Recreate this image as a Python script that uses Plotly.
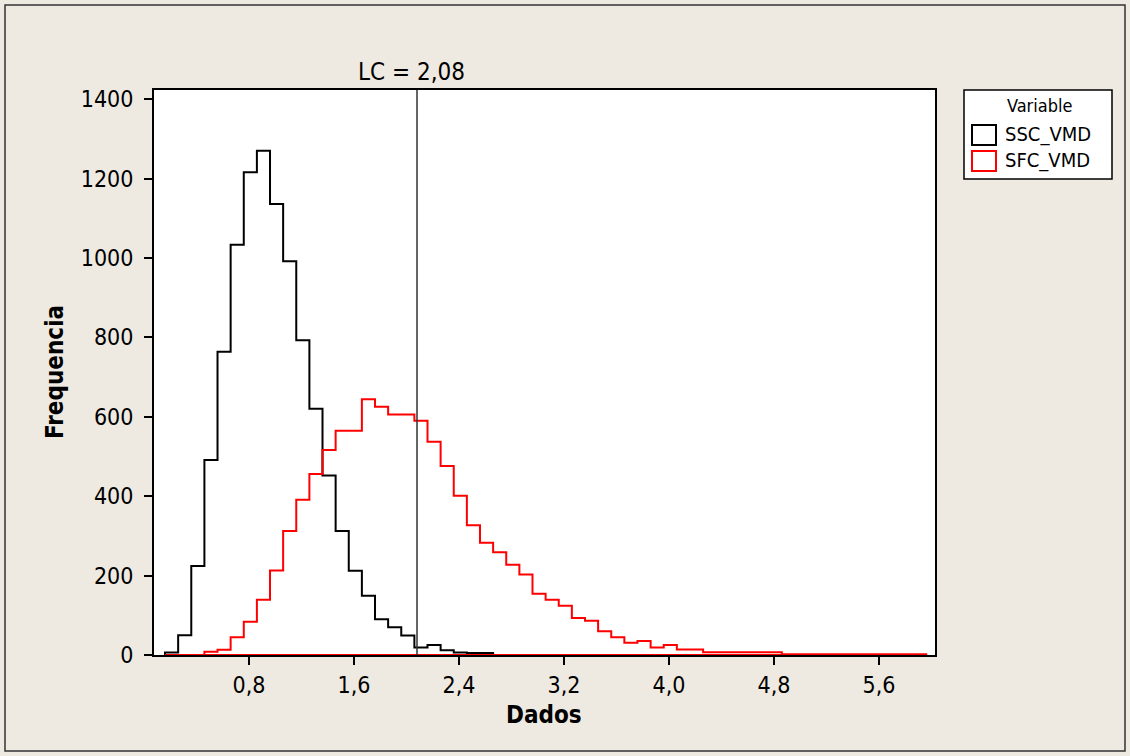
import plotly.graph_objects as go

# ---- data ----
bin_start = 0.16
bin_width = 0.1
ssc_counts = [6, 50, 224, 491, 764, 1033, 1216, 1270, 1136, 992, 793, 620, 452,
              312, 212, 149, 90, 70, 49, 19, 25, 12, 6, 5, 5]
sfc_counts = [0, 0, 0, 8, 13, 45, 84, 139, 213, 312, 391, 456, 516, 565, 565,
              644, 625, 606, 606, 590, 537, 476, 401, 327, 283, 259, 227, 203,
              154, 139, 124, 93, 86, 60, 45, 31, 35, 19, 25, 14, 14,
              7, 7, 7, 7, 7, 7, 2, 2, 2, 2, 2, 2, 2, 2, 2, 2, 2]
series_names = ["SSC_VMD", "SFC_VMD"]
series_colors = ["#000000", "#FF0000"]
lc_value = 2.08
lc_label = "LC = 2,08"
x_tickvals = [0.8, 1.6, 2.4, 3.2, 4.0, 4.8, 5.6]
x_ticktext = ["0,8", "1,6", "2,4", "3,2", "4,0", "4,8", "5,6"]
y_tickvals = [0, 200, 400, 600, 800, 1000, 1200, 1400]
x_range = [0.076, 6.027]
y_range = [0, 1423]

W, H = 1130, 756
L, R, T, B = 154, 195, 90, 101
BG = "#EEEAE1"
FONT = "Tahoma, 'DejaVu Sans Condensed', 'DejaVu Sans', sans-serif"


def px_x(p):
    return (p - L) / (W - L - R)


def px_y(p):
    return (H - B - p) / (H - T - B)


def step_outline(counts):
    edges = [bin_start + i * bin_width for i in range(len(counts) + 1)]
    xs = [edges[0]] + edges + [edges[0]]
    ys = [0] + list(counts) + [0, 0]
    return xs, ys


fig = go.Figure()
for name, counts, color in zip(series_names, [ssc_counts, sfc_counts], series_colors):
    xs, ys = step_outline(counts)
    fig.add_trace(go.Scatter(x=xs, y=ys, mode="lines", name=name,
                             line=dict(color=color, width=2, shape="hv"),
                             showlegend=False, hoverinfo="skip"))

# reference line
fig.add_shape(type="line", x0=lc_value, x1=lc_value, y0=0, y1=1, xref="x", yref="paper",
              line=dict(color="#333333", width=1.5))
fig.add_annotation(x=lc_value, y=1, xref="x", yref="paper", text=lc_label, showarrow=False,
                   xanchor="center", yanchor="bottom", yshift=2, xshift=-6,
                   font=dict(family=FONT, size=24, color="#000000"))

# axis titles
fig.add_annotation(x=px_x(544), y=px_y(715), xref="paper", yref="paper", text="<b>Dados</b>",
                   showarrow=False, xanchor="center", yanchor="middle",
                   font=dict(family=FONT, size=24, color="#000000"))
fig.add_annotation(x=px_x(55), y=px_y(372), xref="paper", yref="paper", text="<b>Frequencia</b>",
                   showarrow=False, textangle=-90, xanchor="center", yanchor="middle",
                   font=dict(family=FONT, size=24, color="#000000"))

# outer frame
fig.add_shape(type="rect", xref="paper", yref="paper", x0=px_x(5), x1=px_x(1125),
              y0=px_y(751), y1=px_y(5), line=dict(color="#333333", width=1.5), layer="below")

# custom legend
fig.add_shape(type="rect", xref="paper", yref="paper", x0=px_x(964), x1=px_x(1112),
              y0=px_y(179), y1=px_y(90), line=dict(color="#000000", width=1.5), fillcolor="white")
fig.add_annotation(x=px_x(1039), y=px_y(105), xref="paper", yref="paper", text="Variable",
                   showarrow=False, xanchor="center", yanchor="middle",
                   font=dict(family=FONT, size=18, color="#000000"))
for i, (name, color) in enumerate(zip(series_names, series_colors)):
    y0 = 125 + i * 26
    fig.add_shape(type="rect", xref="paper", yref="paper", x0=px_x(972), x1=px_x(996),
                  y0=px_y(y0 + 20), y1=px_y(y0), line=dict(color=color, width=2), fillcolor="white")
    fig.add_annotation(x=px_x(1003), y=px_y(y0 + 9), xref="paper", yref="paper", text=name,
                       showarrow=False, xanchor="left", yanchor="middle",
                       font=dict(family=FONT, size=20, color="#000000"))

fig.update_layout(
    width=W, height=H,
    margin=dict(l=L, r=R, t=T, b=B, autoexpand=False),
    paper_bgcolor=BG, plot_bgcolor="white",
    font=dict(family=FONT, size=23, color="#000000"),
    showlegend=False,
)
fig.update_xaxes(range=x_range, tickvals=x_tickvals, ticktext=x_ticktext, showgrid=False,
                 zeroline=False, showline=True, linecolor="black", linewidth=2, mirror=True,
                 ticks="outside", ticklen=8, tickwidth=1.5, tickcolor="black",
                 tickfont=dict(family=FONT, size=23))
fig.update_yaxes(range=y_range, tickvals=y_tickvals, showgrid=False,
                 zeroline=False, showline=True, linecolor="black", linewidth=2, mirror=True,
                 ticks="outside", ticklen=8, tickwidth=1.5, tickcolor="black",
                 tickfont=dict(family=FONT, size=23), ticklabelstandoff=6)

fig.write_html("out.html", config={"displayModeBar": False},
               post_script="document.body.style.margin='0';")
